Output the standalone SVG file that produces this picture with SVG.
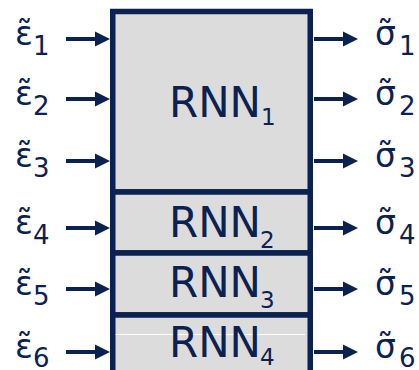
<svg xmlns="http://www.w3.org/2000/svg" xmlns:xlink="http://www.w3.org/1999/xlink" width="419" height="370" viewBox="0 0 419 370">
<style>
.box{fill:#dcdcdc;stroke:#0b2150;stroke-width:5.5}
.t{font-family:"DejaVu Sans",Verdana,sans-serif;fill:#0b2150}
.big{font-size:42px}
.sub{font-size:23px}
.g{font-size:33px}
.gs{font-size:26px}
.arr{fill:#0b2150}
</style>
<defs>
<path id="arrow" d="M0,-2 H29 V-7.5 L44,0 L29,7.5 V2 H0 Z"/>
</defs>
<rect width="419" height="370" fill="#ffffff"/>
<g id="rnn1">
<rect class="box" x="112.75" y="11.5" width="197.5" height="180.5"/>
<text class="t big" x="169" y="116.7">RNN</text><text class="t sub" x="261" y="125">1</text>
</g>
<g id="rnn2">
<rect class="box" x="112.75" y="192" width="197.5" height="61"/>
<text class="t big" x="169" y="236.7">RNN</text><text class="t sub" x="260" y="248">2</text>
</g>
<g id="rnn3">
<rect class="box" x="112.75" y="253" width="197.5" height="62"/>
<text class="t big" x="169" y="296.7">RNN</text><text class="t sub" x="260" y="307.7">3</text>
</g>
<g id="rnn4">
<rect class="box" x="112.75" y="315" width="197.5" height="70"/>
<line x1="115.5" y1="334.5" x2="305" y2="334.5" stroke="#ffffff" stroke-width="1"/>
<text class="t big" x="169" y="356.7">RNN</text><text class="t sub" x="260" y="365">4</text>
</g>
<g id="inputs">
<text class="t g" x="15" y="45">ε̃</text><text class="t gs" x="33" y="55">1</text>
<text class="t g" x="15" y="105">ε̃</text><text class="t gs" x="33" y="115">2</text>
<text class="t g" x="15" y="167">ε̃</text><text class="t gs" x="33" y="177">3</text>
<text class="t g" x="15" y="234">ε̃</text><text class="t gs" x="33" y="244">4</text>
<text class="t g" x="15" y="295">ε̃</text><text class="t gs" x="33" y="305">5</text>
<text class="t g" x="15" y="358">ε̃</text><text class="t gs" x="33" y="367">6</text>
</g>
<g id="outputs">
<text class="t g" x="375" y="45">σ̃</text><text class="t gs" x="399" y="55">1</text>
<text class="t g" x="375" y="105">σ̃</text><text class="t gs" x="399" y="115">2</text>
<text class="t g" x="375" y="167">σ̃</text><text class="t gs" x="399" y="177">3</text>
<text class="t g" x="375" y="234">σ̃</text><text class="t gs" x="399" y="244">4</text>
<text class="t g" x="375" y="295">σ̃</text><text class="t gs" x="399" y="305">5</text>
<text class="t g" x="375" y="358">σ̃</text><text class="t gs" x="399" y="367">6</text>
</g>
<g id="connectors" class="arr">
<use xlink:href="#arrow" x="66" y="39"/>
<use xlink:href="#arrow" x="66" y="99"/>
<use xlink:href="#arrow" x="66" y="161"/>
<use xlink:href="#arrow" x="66" y="228"/>
<use xlink:href="#arrow" x="66" y="289"/>
<use xlink:href="#arrow" x="66" y="352"/>
<use xlink:href="#arrow" x="314" y="39"/>
<use xlink:href="#arrow" x="314" y="99"/>
<use xlink:href="#arrow" x="314" y="161"/>
<use xlink:href="#arrow" x="314" y="228"/>
<use xlink:href="#arrow" x="314" y="289"/>
<use xlink:href="#arrow" x="314" y="352"/>
</g>
</svg>
